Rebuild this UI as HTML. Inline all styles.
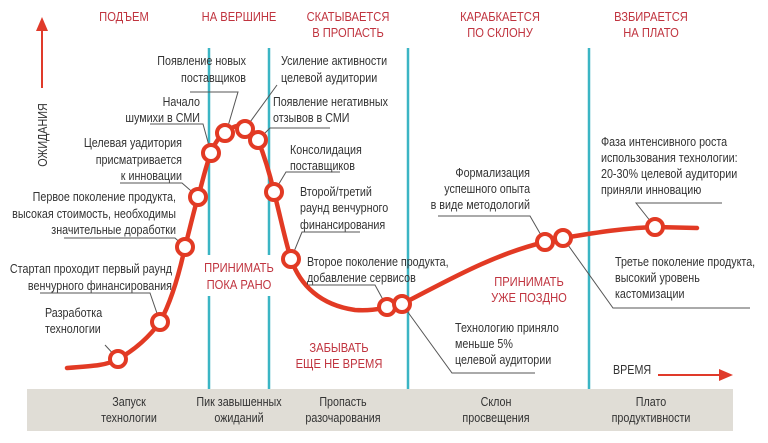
<!DOCTYPE html>
<html><head><meta charset="utf-8"><style>
body{margin:0;background:#fff}
svg text{font-family:"Liberation Sans Narrow","Liberation Sans",sans-serif;font-size:12.5px;fill:#333;transform-box:fill-box;transform:scaleX(.86);transform-origin:left center}
svg text.e, .e text{transform-origin:right center}
svg text.m, .m text, .r{transform-origin:center center}
.r{fill:#c0343f;font-size:13px}
.e{text-anchor:end}.m{text-anchor:middle}
</style></head><body>
<svg width="768" height="438" viewBox="0 0 768 438" xmlns="http://www.w3.org/2000/svg">
<rect x="27" y="389" width="706" height="42" fill="#e0ddd6"/>
<g stroke="#3bb5c4" stroke-width="2.5">
<line x1="209" y1="48" x2="209" y2="255"/><line x1="209" y1="296" x2="209" y2="389"/>
<line x1="269" y1="48" x2="269" y2="255"/><line x1="269" y1="296" x2="269" y2="389"/>
<line x1="408" y1="48" x2="408" y2="389"/>
<line x1="589" y1="48" x2="589" y2="389"/>
</g>
<g class="m">
<text x="124" y="21" class="r">ПОДЪЕМ</text>
<text x="239" y="21" class="r">НА ВЕРШИНЕ</text>
<text x="348" y="21" class="r">СКАТЫВАЕТСЯ</text><text x="348" y="37" class="r">В ПРОПАСТЬ</text>
<text x="500" y="21" class="r">КАРАБКАЕТСЯ</text><text x="500" y="37" class="r">ПО СКЛОНУ</text>
<text x="651" y="21" class="r">ВЗБИРАЕТСЯ</text><text x="651" y="37" class="r">НА ПЛАТО</text>
<text x="239" y="272" class="r">ПРИНИМАТЬ</text><text x="239" y="289" class="r">ПОКА РАНО</text>
<text x="339" y="352" class="r">ЗАБЫВАТЬ</text><text x="339" y="368" class="r">ЕЩЕ НЕ ВРЕМЯ</text>
<text x="529" y="286" class="r">ПРИНИМАТЬ</text><text x="529" y="302" class="r">УЖЕ ПОЗДНО</text>
</g>
<line x1="42" y1="88" x2="42" y2="30" stroke="#e03a2a" stroke-width="2"/>
<polygon points="42,17 36,31 48,31" fill="#e03a2a"/>
<g class="m" transform="translate(47,135) rotate(-90)"><text x="0" y="0">ОЖИДАНИЯ</text></g>
<text x="613" y="374">ВРЕМЯ</text>
<line x1="658" y1="375" x2="722" y2="375" stroke="#e03a2a" stroke-width="2"/>
<polygon points="733,375 719,369 719,381" fill="#e03a2a"/>
<g stroke="#555" stroke-width="1" fill="none">
<polyline points="190,92 238,92 226,133"/>
<polyline points="150,124 203,124 211,153"/>
<polyline points="120,183 182,183 198,197"/>
<polyline points="64,238 175,238 185,247"/>
<polyline points="40,293 150,293 160,322"/>
<polyline points="105,345 118,359"/>
<polyline points="277,85 245,129"/>
<polyline points="330,128 270,128 258,140"/>
<polyline points="340,172 286,172 274,192"/>
<polyline points="360,232 302,232 291,259"/>
<polyline points="307,285 375,285 387,307"/>
<polyline points="402,304 452,373 535,373"/>
<polyline points="438,216 530,216 545,242"/>
<polyline points="722,203 636,203 655,227"/>
<polyline points="563,238 613,308 750,308"/>
</g>
<path d="M67,368 C95,366 108,365 118,359 C135,350 150,336 160,322 C172,300 180,270 185,247 C190,228 194,210 198,197 C203,180 206,165 211,153 C215,142 220,136 225,133 C230,128 240,122 245,129 C250,132 254,136 258,140 C264,155 270,175 274,192 C280,215 285,240 291,259 C300,285 320,305 355,310 C370,311 380,309 387,307 L402,304 C440,285 490,255 545,242 L563,238 C600,232 625,228 655,227 L697,228" fill="none" stroke="#e23a24" stroke-width="4.5" stroke-linecap="round"/>
<g fill="#fff" stroke="#e23a24" stroke-width="4">
<circle cx="118" cy="359" r="8"/><circle cx="160" cy="322" r="8"/><circle cx="185" cy="247" r="8"/>
<circle cx="198" cy="197" r="8"/><circle cx="211" cy="153" r="8"/><circle cx="225" cy="133" r="8"/>
<circle cx="245" cy="129" r="8"/><circle cx="258" cy="140" r="8"/><circle cx="274" cy="192" r="8"/>
<circle cx="291" cy="259" r="8"/><circle cx="387" cy="307" r="8"/><circle cx="402" cy="304" r="8"/>
<circle cx="545" cy="242" r="8"/><circle cx="563" cy="238" r="8"/><circle cx="655" cy="227" r="8"/>
</g>
<g class="e">
<text x="246" y="65">Появление новых</text><text x="246" y="82">поставщиков</text>
<text x="200" y="106">Начало</text><text x="200" y="122">шумихи в СМИ</text>
<text x="182" y="147">Целевая уадитория</text><text x="182" y="164">присматривается</text><text x="182" y="180">к инновации</text>
<text x="176" y="201">Первое поколение продукта,</text><text x="176" y="218">высокая стоимость, необходимы</text><text x="176" y="234">значительные доработки</text>
<text x="172" y="273">Стартап проходит первый раунд</text><text x="172" y="290">венчурного финансирования</text>
<text x="530" y="177">Формализация</text><text x="530" y="193">успешного опыта</text><text x="530" y="209">в виде методологий</text>
</g>
<text x="45" y="317">Разработка</text><text x="45" y="333">технологии</text>
<text x="281" y="65">Усиление активности</text><text x="281" y="82">целевой аудитории</text>
<text x="273" y="106">Появление негативных</text><text x="273" y="122">отзывов в СМИ</text>
<text x="290" y="154">Консолидация</text><text x="290" y="170">поставщиков</text>
<text x="300" y="196">Второй/третий</text><text x="300" y="212">раунд венчурного</text><text x="300" y="229">финансирования</text>
<text x="307" y="266">Второе поколение продукта,</text><text x="307" y="282">добавление сервисов</text>
<text x="455" y="332">Технологию приняло</text><text x="455" y="348">меньше 5%</text><text x="455" y="364">целевой аудитории</text>
<text x="601" y="146">Фаза интенсивного роста</text><text x="601" y="162">использования  технологии:</text><text x="601" y="178">20-30% целевой аудитории</text><text x="601" y="194">приняли инновацию</text>
<text x="615" y="266">Третье поколение продукта,</text><text x="615" y="282">высокий уровень</text><text x="615" y="298">кастомизации</text>
<g class="m">
<text x="129" y="406">Запуск</text><text x="129" y="422">технологии</text>
<text x="239" y="406">Пик завышенных</text><text x="239" y="422">ожиданий</text>
<text x="343" y="406">Пропасть</text><text x="343" y="422">разочарования</text>
<text x="496" y="406">Склон</text><text x="496" y="422">просвещения</text>
<text x="651" y="406">Плато</text><text x="651" y="422">продуктивности</text>
</g>
</svg>
</body></html>
